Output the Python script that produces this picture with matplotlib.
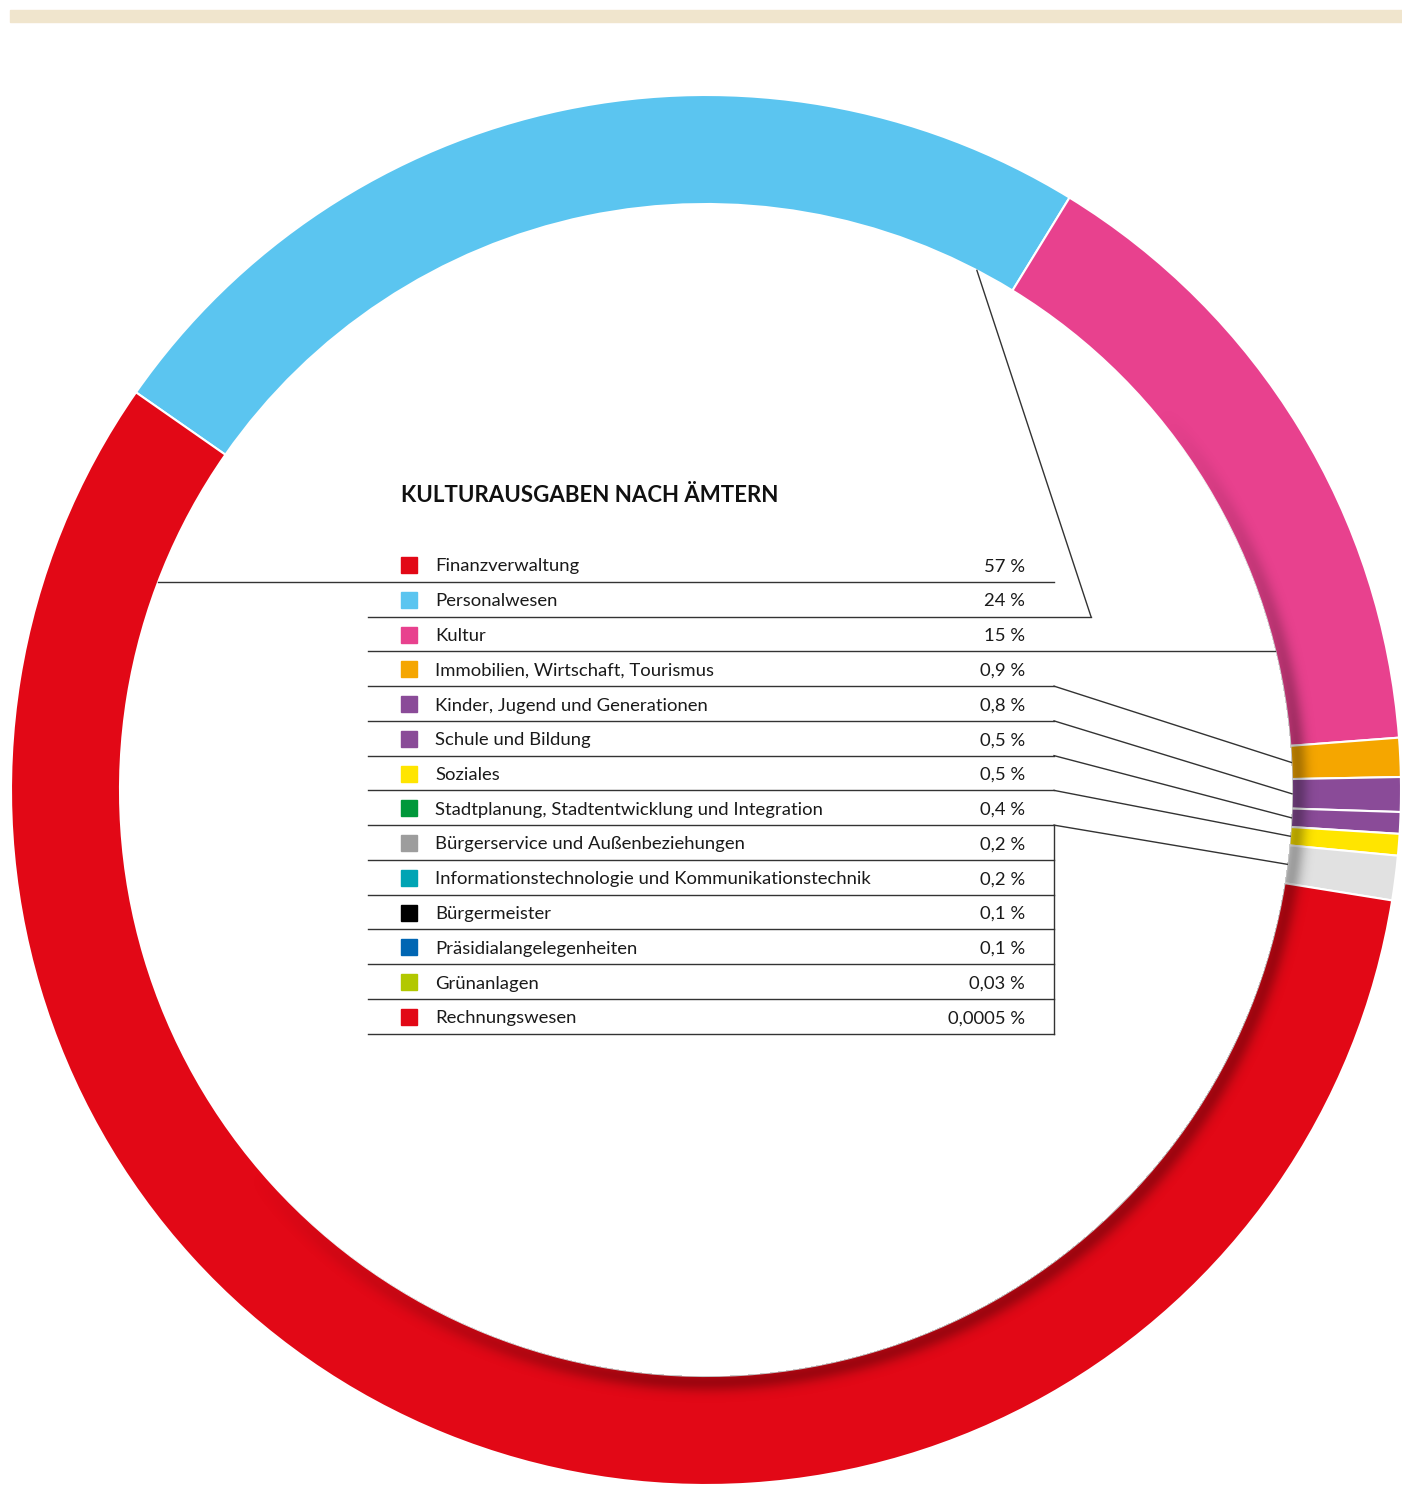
import numpy as np
import matplotlib.pyplot as plt
from matplotlib.patches import Rectangle

# legend entries (label, share text, colour)
labels = ["Finanzverwaltung", "Personalwesen", "Kultur", "Immobilien, Wirtschaft, Tourismus",
          "Kinder, Jugend und Generationen", "Schule und Bildung", "Soziales",
          "Stadtplanung, Stadtentwicklung und Integration", "Bürgerservice und Außenbeziehungen",
          "Informationstechnologie und Kommunikationstechnik", "Bürgermeister",
          "Präsidialangelegenheiten", "Grünanlagen", "Rechnungswesen"]
shares = [57, 24, 15, 0.9, 0.8, 0.5, 0.5, 0.4, 0.2, 0.2, 0.1, 0.1, 0.03, 0.0005]
share_text = ["57 %", "24 %", "15 %", "0,9 %", "0,8 %", "0,5 %", "0,5 %", "0,4 %", "0,2 %",
              "0,2 %", "0,1 %", "0,1 %", "0,03 %", "0,0005 %"]
colors = ["#e20816", "#5bc5f0", "#e8418e", "#f5a600", "#8a4b98", "#8a4b98", "#ffe500",
          "#00983a", "#9d9d9d", "#00a4b4", "#000000", "#0066b3", "#b2c800", "#e20816"]

# ring: the small offices are grouped into one light grey piece
ring_values = [shares[1], shares[2], shares[3], shares[4], shares[5], shares[6],
               sum(shares[7:]), shares[0]]
ring_colors = [colors[1], colors[2], colors[3], colors[4], colors[5], colors[6], "#e1e1e1", colors[0]]

W, H = 1402, 1488
cx, cy = 706, H - 790            # ring centre (data coords, y up)
r_out, r_in = 695, 586

fig = plt.figure(figsize=(W / 100, H / 100), dpi=100)
ax = fig.add_axes([0, 0, 1, 1])

wedges, _ = ax.pie(ring_values, colors=ring_colors, startangle=145.1, counterclock=False,
                   radius=r_out, center=(cx, cy),
                   wedgeprops=dict(width=r_out - r_in, edgecolor="white", linewidth=1.5))

# soft shadow along the inner edge on the right / bottom side
yy, xx = np.mgrid[0:H, 0:W] + 0.5
rr = np.hypot(xx - cx, yy - cy)
th = np.degrees(np.arctan2(yy - cy, xx - cx))
d = rr - r_in
f = np.exp(-((d - 6) / 10.0) ** 2) * (d >= 0) * (rr <= r_out)
g = np.clip((40 - th) / 35, 0, 1) * np.clip((th + 140) / 45, 0, 1)
shadow = np.zeros((H, W, 4))
shadow[..., 3] = 0.3 * f * g
ax.imshow(shadow, extent=(0, W, 0, H), origin="lower", zorder=3, interpolation="bilinear")

# beige band at the top
ax.add_patch(Rectangle((10, H - 22), W - 10, 12, color="#f0e5cd", zorder=1))

font = "Lato"
ax.text(401, H - 496, "KULTURAUSGABEN NACH ÄMTERN", fontsize=16, fontweight="bold",
        family=font, va="center", ha="left", color="#111111", zorder=5)

row0, step = 565, 34.75
line_c = "#333333"
for i, lab in enumerate(labels):
    yc = H - (row0 + i * step)
    ax.add_patch(Rectangle((401, yc - 8), 16, 16, color=colors[i], zorder=5))
    ax.text(435, yc - 1.5, lab, fontsize=13.3, family=font, va="center", ha="left", color="#1a1a1a", zorder=5)
    ax.text(1025, yc - 1.5, share_text[i], fontsize=13.3, family=font, va="center", ha="right",
            color="#1a1a1a", zorder=5)
    yl = yc - step / 2 + 0.5
    x0, x1 = 368, 1054
    if i == 0:                                   # line reaches into the red ring
        x0 = cx - np.sqrt(r_in ** 2 - (yl - cy) ** 2)
    if i == 1:
        x1 = 1091
    if i == 2:                                   # line reaches into the pink ring
        x1 = cx + np.sqrt(r_in ** 2 - (yl - cy) ** 2)
    ax.plot([x0, x1], [yl, yl], color=line_c, lw=1, zorder=4)

    # leader lines to the ring
    if i == 1:
        a = np.radians(wedges[0].theta1 + 4)
        ax.plot([1091, cx + r_in * np.cos(a)], [yl, cy + r_in * np.sin(a)], color=line_c, lw=1, zorder=4)
    if 3 <= i <= 7:
        w = wedges[i - 1]
        a = np.radians((w.theta1 + w.theta2) / 2)
        ax.plot([1054, cx + r_in * np.cos(a)], [yl, cy + r_in * np.sin(a)], color=line_c, lw=1, zorder=4)

# bracket for the grouped small offices
y_top = H - (row0 + 7 * step + step / 2) + 0.5
y_bot = H - (row0 + 13 * step + step / 2) + 0.5
ax.plot([1054, 1054], [y_top, y_bot], color=line_c, lw=1, zorder=4)

ax.set_xlim(0, W)
ax.set_ylim(0, H)
ax.set_aspect("equal")
ax.axis("off")
fig.savefig("out.png", dpi=100, facecolor="white")
